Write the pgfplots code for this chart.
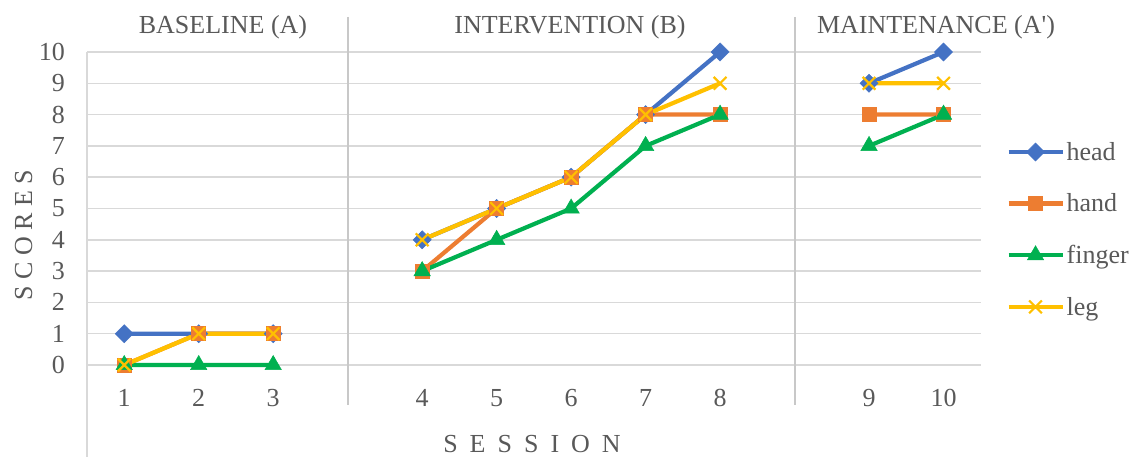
\documentclass[border=0pt]{standalone}
\usepackage{pgfplots}
\pgfplotsset{compat=1.18}
\usepackage{fontspec}
\setmainfont{Liberation Serif}
\newfontfamily\rawq{Liberation Serif}[Ligatures=TeXOff]
\definecolor{cHead}{HTML}{4472C4}
\definecolor{cHand}{HTML}{ED7D31}
\definecolor{cFinger}{HTML}{00B050}
\definecolor{cLeg}{HTML}{FFC000}
\definecolor{txt}{HTML}{595959}
\definecolor{gridc}{HTML}{D9D9D9}
\definecolor{sepc}{HTML}{C8C8C8}
\newcommand{\bigf}{\fontsize{26bp}{30bp}\selectfont}
\begin{document}
\begin{tikzpicture}[x=1bp,y=1bp]
\useasboundingbox (0,0) rectangle (1136,457);
\begin{axis}[
  at={(87bp,92bp)}, anchor=south west,
  scale only axis, width=893.75bp, height=313bp,
  xmin=-0.5, xmax=11.5, ymin=0, ymax=10,
  clip=false,
  unbounded coords=jump,
  axis line style={draw=none},
  major tick length=0pt,
  xtick={0,1,2,4,5,6,7,8,10,11},
  xticklabels={1,2,3,4,5,6,7,8,9,10},
  ytick={0,1,2,3,4,5,6,7,8,9,10},
  ymajorgrids,
  grid style={gridc, line width=1.5bp},
  /pgf/number format/assume math mode=true,
  tick label style={font=\bigf, text=txt},
  yticklabel style={anchor=east, inner sep=0pt, xshift=-22bp},
  xticklabel style={anchor=base, inner sep=0pt, yshift=-42bp},
  legend style={at={(1.0285,0.433)}, anchor=west, draw=none, fill=none,
    font=\bigf, text=txt, inner sep=0pt, row sep=28bp,
    nodes={inner sep=2bp}},
  legend cell align=left,
  legend image code/.code={\draw[mark repeat=2,mark phase=2] plot coordinates {(0bp,0bp) (27bp,0bp) (54bp,0bp)};},
  every axis plot/.append style={line width=4.2bp},
]
\addplot[cHead, mark=square*, mark size=6.4bp, mark options={rotate=45, line width=0.5bp, fill=cHead}]
  coordinates {(0,1) (1,1) (2,1) (3,nan) (4,4) (5,5) (6,6) (7,8) (8,10) (9,nan) (10,9) (11,10)};
\addlegendentry{head}
\addplot[cHand, mark=square*, mark size=7bp, mark options={line width=0.5bp, fill=cHand}]
  coordinates {(0,0) (1,1) (2,1) (3,nan) (4,3) (5,5) (6,6) (7,8) (8,8) (9,nan) (10,8) (11,8)};
\addlegendentry{hand}
\addplot[cFinger, mark=triangle*, mark size=9.5bp, mark options={line width=0.5bp, fill=cFinger}]
  coordinates {(0,0) (1,0) (2,0) (3,nan) (4,3) (5,4) (6,5) (7,7) (8,8) (9,nan) (10,7) (11,8)};
\addlegendentry{finger}
\addplot[cLeg, mark=x, mark size=9bp, mark options={line width=2.2bp}]
  coordinates {(0,0) (1,1) (2,1) (3,nan) (4,4) (5,5) (6,6) (7,8) (8,9) (9,nan) (10,9) (11,9)};
\addlegendentry{leg}
\draw[sepc, line width=2bp] (axis cs:3,11.12) -- (axis cs:3,-1.28);
\draw[sepc, line width=2bp] (axis cs:9,11.12) -- (axis cs:9,-1.28);
\draw[gridc, line width=1.5bp] (axis cs:-0.5,10) -- (axis cs:-0.5,-2.94);
\end{axis}
\node[anchor=base, text=txt, font=\bigf, inner sep=0pt] at (223,423) {BASELINE (A)};
\node[anchor=base, text=txt, font=\bigf, inner sep=0pt] at (570,423) {INTERVENTION (B)};
\node[anchor=base, text=txt, font=\bigf, inner sep=0pt] at (936,423) {MAINTENANCE (A{\rawq '})};
\node[anchor=base, text=txt, font=\bigf, inner sep=0pt, rotate=90] at (32,222) {S C O R E S};
\node[anchor=base, text=txt, font=\bigf, inner sep=0pt] at (532,4) {S\hspace{12bp}E\hspace{12bp}S\hspace{12bp}S\hspace{12bp}I\hspace{12bp}O\hspace{12bp}N};
\end{tikzpicture}
\end{document}
